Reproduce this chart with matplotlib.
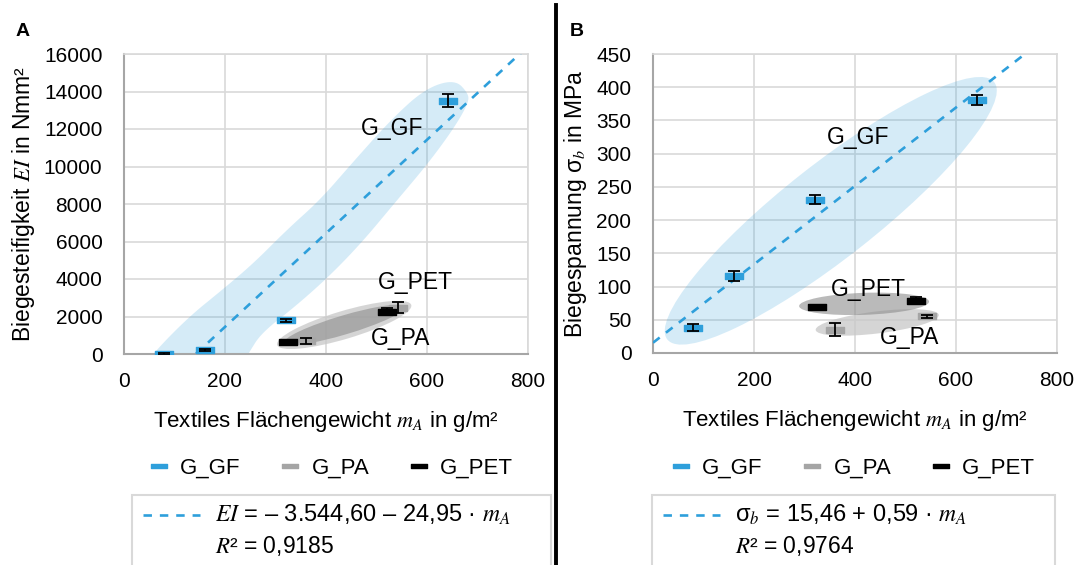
import numpy as np
import matplotlib
matplotlib.use("Agg")
import matplotlib.pyplot as plt
import matplotlib.transforms as mtransforms
from matplotlib.path import Path
from matplotlib.patches import Ellipse, Polygon, Rectangle
from matplotlib.lines import Line2D

plt.rcParams['font.family'] = ['Liberation Sans', 'DejaVu Sans']
plt.rcParams['mathtext.fontset'] = 'stix'

# --- data ---
groups = ['G_GF', 'G_PA', 'G_PET']
m_gf = [80, 160, 321, 641]          # textile areal weight in g/m²
m_pa = [360, 543]
m_pet = [325, 520]

ei_gf = [0, 200, 1810, 13500]       # bending stiffness EI in Nmm²
ei_gf_err = [40, 60, 80, 350]
ei_pa = [700, 2480]
ei_pa_err = [150, 300]
ei_pet = [650, 2250]
ei_pet_err = [100, 180]

sb_gf = [38, 116, 231, 381]         # bending stress in MPa
sb_gf_err = [5, 7, 7, 7.5]
sb_pa = [35, 55]
sb_pa_err = [10, 2]
sb_pet = [69, 79]
sb_pet_err = [1.5, 6]

fit_ei = [-3544.60, 24.95]          # intercept, slope
fit_sb = [15.46, 0.59]
eq_ei = ["$EI$ = – 3.544,60 – 24,95 · $m_A$", "$R$² = 0,9185"]
eq_sb = ["σ$_b$ = 15,46 + 0,59 · $m_A$", "$R$² = 0,9764"]

# hand drawn highlight around the G_GF points in panel A (data units)
gf_hull_m = [45, 58, 128, 194, 257, 322, 388, 452, 528, 596, 655, 682,
             682, 655, 603, 536, 470, 405, 338, 272, 247, 233]
gf_hull_ei = [-600, 50, 1970, 3410, 4850, 6610, 8210, 10190, 12480, 14150, 14650, 13900,
              13390, 12110, 10190, 8050, 5920, 4110, 2510, 1120, 50, -600]

C_GF = '#2e9fdb'
C_PA = '#a5a5a5'
C_PET = '#000000'
GRID = '#d9d9d9'

W, H = 1082, 565
fig = plt.figure(figsize=(W / 100, H / 100), dpi=100)

# flat dash marker like the excel one
rect = Path([(-1, -0.28), (1, -0.28), (1, 0.28), (-1, 0.28), (-1, -0.28)],
            [Path.MOVETO, Path.LINETO, Path.LINETO, Path.LINETO, Path.CLOSEPOLY])


def oval(ax, x, y, a, b, ang, color, alpha, z=2):
    # ellipse sized in pixels, centred on a data point
    tr = mtransforms.ScaledTranslation(x, y, ax.transData)
    ax.add_patch(Ellipse((0, 0), 2 * a, 2 * b, angle=ang, transform=tr,
                         facecolor=color, alpha=alpha, edgecolor='none', zorder=z))


def chaikin(pts, n=4):
    for _ in range(n):
        q = np.roll(pts, -1, axis=0)
        a = 0.75 * pts + 0.25 * q
        b = 0.25 * pts + 0.75 * q
        pts = np.column_stack([a, b]).reshape(-1, 2)
    return pts


def blob(ax, xs, ys, color, alpha, z=2):
    pts = chaikin(np.c_[xs, ys].astype(float))
    ax.add_patch(Polygon(pts, closed=True, facecolor=color, alpha=alpha,
                         edgecolor='none', zorder=z))


def series(ax, x, y, err, color):
    ax.plot(x, y, ls='none', marker=rect, ms=13.5, color=color, mec=color, zorder=5)
    ax.errorbar(x, y, yerr=err, fmt='none', ecolor='black', elinewidth=1.3,
                capsize=4, capthick=1.3, zorder=6)


def setup(ax, ymax, ystep, ylabel):
    ax.set_xlim(0, 800)
    ax.set_ylim(0, ymax)
    ax.set_xticks(np.arange(0, 801, 200))
    ax.set_yticks(np.arange(0, ymax + 1, ystep))
    ax.grid(True, color=GRID, lw=1.2)
    ax.set_axisbelow(True)
    for s in ['top', 'right']:
        ax.spines[s].set_color(GRID)
        ax.spines[s].set_linewidth(1.2)
    for s in ['left', 'bottom']:
        ax.spines[s].set_color('#a6a6a6')
        ax.spines[s].set_linewidth(1.5)
    ax.tick_params(length=0, labelsize=15)
    ax.tick_params(axis='y', pad=15.5)
    ax.tick_params(axis='x', pad=13)
    ax.set_xlabel("Textiles Flächengewicht $m_A$ in g/m²", fontsize=16, labelpad=13)
    ax.set_ylabel(ylabel, fontsize=16.5, labelpad=5)


def trend(ax, fit):
    xs = np.linspace(0, 800, 400)
    ax.plot(xs, fit[0] + fit[1] * xs, color=C_GF, lw=1.9, dashes=(3.2, 3), zorder=4)


def legends(x0, x1, cx, eq):
    hs = [Line2D([], [], ls='none', marker=rect, ms=11, color=c, mec=c)
          for c in (C_GF, C_PA, C_PET)]
    fig.legend(hs, groups, loc='center', bbox_to_anchor=(cx / W, 1 - 468 / H), ncol=3,
               frameon=False, fontsize=16, handlelength=0.9, handletextpad=0.5,
               columnspacing=1.8)
    fig.add_artist(Rectangle((x0 / W, -0.05), (x1 - x0) / W, 0.05 + 1 - 495 / H,
                             transform=fig.transFigure, facecolor='none',
                             edgecolor=GRID, lw=1.5))
    fig.add_artist(Line2D([(x0 + 11) / W, (x0 + 68) / W], [1 - 515 / H] * 2,
                          transform=fig.transFigure, color=C_GF, lw=1.9, dashes=(3.2, 3)))
    fig.text((x0 + 83) / W, 1 - 515 / H, eq[0], fontsize=17, va='center')
    fig.text((x0 + 83) / W, 1 - 546 / H, eq[1], fontsize=16.5, va='center')


# ---------------- panel A ----------------
axA = fig.add_axes([124 / W, 1 - 354 / H, 404 / W, 300 / H])
setup(axA, 16000, 2000, "Biegesteifigkeit $EI$ in Nmm²")
blob(axA, gf_hull_m, gf_hull_ei, C_GF, 0.2)
oval(axA, 436, 1550, 70, 14, 16.6, '#c8c8c8', 0.75, z=2)
oval(axA, 436, 1550, 63, 9.5, 16.6, '#8c8c8c', 0.6, z=2.1)
trend(axA, fit_ei)
series(axA, m_gf, ei_gf, ei_gf_err, C_GF)
series(axA, m_pa, ei_pa, ei_pa_err, C_PA)
series(axA, m_pet, ei_pet, ei_pet_err, C_PET)
axA.text(531, 12050, "G_GF", fontsize=16.5, ha='center', va='center', zorder=7)
axA.text(576, 3790, "G_PET", fontsize=16.5, ha='center', va='center', zorder=7)
axA.text(547, 850, "G_PA", fontsize=16.5, ha='center', va='center', zorder=7)

# ---------------- panel B ----------------
axB = fig.add_axes([653 / W, 1 - 353 / H, 404 / W, 299 / H])
setup(axB, 450, 50, "Biegespannung σ$_b$ in MPa")
oval(axB, 352, 214, 208, 47, 38.2, C_GF, 0.2)
oval(axB, 444, 46, 62, 11, 7, '#c8c8c8', 0.75, z=2)
oval(axB, 418, 74, 65, 11, 2, '#8c8c8c', 0.6, z=2.1)
trend(axB, fit_sb)
series(axB, m_gf, sb_gf, sb_gf_err, C_GF)
series(axB, m_pa, sb_pa, sb_pa_err, C_PA)
series(axB, m_pet, sb_pet, sb_pet_err, C_PET)
axB.text(406, 324, "G_GF", fontsize=16.5, ha='center', va='center', zorder=7)
axB.text(426, 95, "G_PET", fontsize=16.5, ha='center', va='center', zorder=7)
axB.text(509, 24, "G_PA", fontsize=16.5, ha='center', va='center', zorder=7)

legends(132, 551, 331, eq_ei)
legends(652, 1055, 853, eq_sb)

fig.text(23 / W, 1 - 31 / H, "A", fontsize=14, fontweight='bold', ha='center', va='center')
fig.text(577 / W, 1 - 31 / H, "B", fontsize=14, fontweight='bold', ha='center', va='center')
fig.add_artist(Line2D([556 / W, 556 / W], [0, 0.992], transform=fig.transFigure,
                      color='black', lw=2.8))

fig.savefig("out.png", dpi=100)
